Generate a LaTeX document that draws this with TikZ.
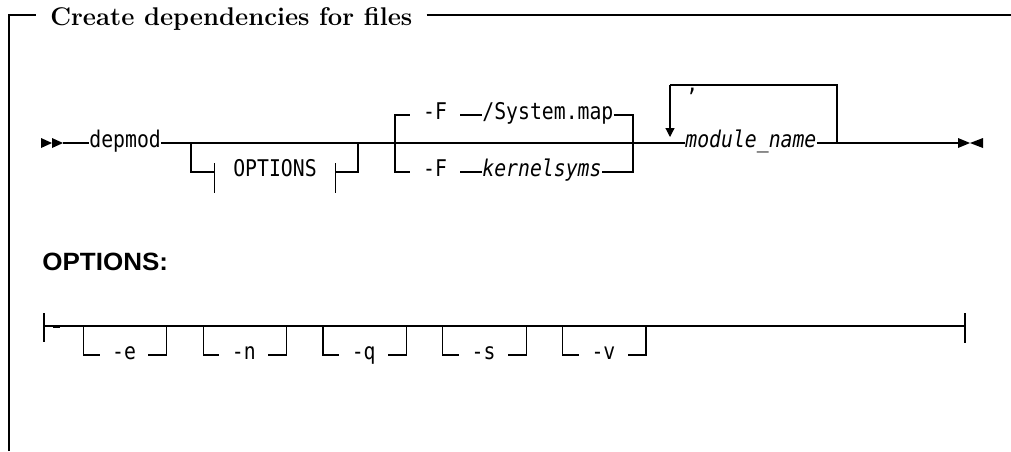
\documentclass[tikz,border=0pt]{standalone}
\usepackage{fontspec}
\usepackage{tikz}
\usetikzlibrary{arrows.meta, calc}
\newfontfamily\railfont[FakeStretch=0.86]{DejaVu Sans Mono}
\newfontfamily\headfont[FakeStretch=1.04]{Liberation Sans}
\tikzset{
  rail/.style={line width=0.6pt},
  frame/.style={line width=0.7pt},
  kw/.style={font={\railfont\fontsize{11.5pt}{13pt}\selectfont}, inner sep=0pt},
  var/.style={font={\railfont\itshape\fontsize{11.5pt}{13pt}\selectfont}, inner sep=0pt},
  titlebox/.style={font={\fontsize{12.8pt}{15pt}\selectfont\bfseries}, inner ysep=0pt, inner xsep=7pt},
  headbox/.style={font={\headfont\bfseries\fontsize{12.5pt}{15pt}\selectfont}, inner sep=0pt}
}

\begin{document}
\begin{tikzpicture}[x=0.5pt,y=-0.5pt]
                        \useasboundingbox (0,0) rectangle (1011,451);
                        % frame
                        \coordinate (frtl) at (9,15);
                        \coordinate (frbl) at (9,451);
                        \coordinate (frtr) at (1011,15);
                        \node[titlebox, anchor=base west] (title) at (36,25.5) {Create dependencies for files};
                        \draw[frame] (frbl) -- (frtl) -- (frtl -| title.west);
                        \draw[frame] (title.east |- frtl) -- (frtr);
                        % main rail
                        \coordinate (begin) at (63,143);
                        \coordinate (stop) at (958,143);
                        \fill (41,138) -- (52,143) -- (41,148) -- cycle;
                        \fill (52,138) -- (63,143) -- (52,148) -- cycle;
                        \node[kw, anchor=mid west] (depmod) at (89,143) {depmod};
                        \node[var, anchor=mid west] (modname) at (685,143) {module\_name};
                        \draw[rail] (begin) -- (depmod.mid west);
                        \draw[rail] (depmod.mid east) -- (modname.mid west);
                        \draw[rail] (modname.mid east) -- (stop);
                        \draw[line width=1.2pt] (843,143) -- (867,143);
                        \fill (958,138) -- (970,143) -- (958,148) -- cycle;
                        \fill (983,138) -- (970,143) -- (983,148) -- cycle;
                        % OPTIONS fragment
                        \coordinate (obl) at (191,143);
                        \coordinate (obr) at (358,143);
                        \node[kw, minimum width=60pt, anchor=mid] (ofrag) at (275,172) {OPTIONS};
                        \draw[rail] (obl) |- (ofrag.mid west);
                        \draw[rail] (ofrag.mid east) -| (obr);
                        \draw[rail] ([yshift=4.5pt]ofrag.mid west) -- ([yshift=-10.5pt]ofrag.mid west);
                        \draw[rail] ([yshift=4.5pt]ofrag.mid east) -- ([yshift=-10.5pt]ofrag.mid east);
                        % -F choice
                        \coordinate (fsplit) at (395,143);
                        \coordinate (fjoin) at (633,143);
                        \node[kw, minimum width=25pt, anchor=mid] (fa) at (435,115) {-F};
                        \node[kw, minimum width=25pt, anchor=mid] (fb) at (435,172) {-F};
                        \node[kw, anchor=mid west] (sysmap) at (482,115) {/System.map};
                        \node[var, anchor=mid west] (ksyms) at (482,172) {kernelsyms};
                        \draw[rail] (fa.mid west) -| (fsplit) |- (fb.mid west);
                        \draw[rail] (fa.mid east) -- (sysmap.mid west);
                        \draw[rail] (fb.mid east) -- (ksyms.mid west);
                        \draw[rail] (sysmap.mid east) -| (fjoin) |- (ksyms.mid east);
                        % repeat loop
                        \coordinate (lpl) at (670,85);
                        \coordinate (lpr) at (837,85);
                        \coordinate (lptip) at (670,137);
                        \draw[rail] (modname.mid east -| lpr) -- (lpr) -- (lpl);
                        \draw[rail, -{Triangle[length=4.5pt,width=4.5pt]}] (lpl) -- (lptip);
                        \node[kw, anchor=base west] (comma) at (686,91.5) {,};
                        % OPTIONS block
                        \node[headbox, anchor=base west] (opthead) at (42,270) {OPTIONS:};
                        \coordinate (ol) at (44,326);
                        \coordinate (or) at (965,326);
                        \draw[rail] (ol) -- (or);
                        \draw[rail] ([yshift=6.5pt]ol) -- ([yshift=-8pt]ol);
                        \draw[rail] ([yshift=6.5pt]or) -- ([yshift=-8.5pt]or);
                        \draw[line width=1.1pt] (53,326.5) -- (60,326.5);
                        \draw[line width=1.1pt] (646,326) -- (670,326);
                        \foreach \o [count=\i from 0] in {e,n,q,s,v}{
                          \coordinate (ob-\o-l) at ({83.3+119.85*\i},326);
                          \coordinate (ob-\o-r) at ({166.6+119.85*\i},326);
                          \node[kw, minimum width=24pt, anchor=mid] (opt-\o) at ({124+119.85*\i},355) {-\o};
                          \draw[rail] (ob-\o-l) |- (opt-\o.mid west);
                          \draw[rail] (ob-\o-r) |- (opt-\o.mid east);
                        }
                    \end{tikzpicture}
\end{document}
